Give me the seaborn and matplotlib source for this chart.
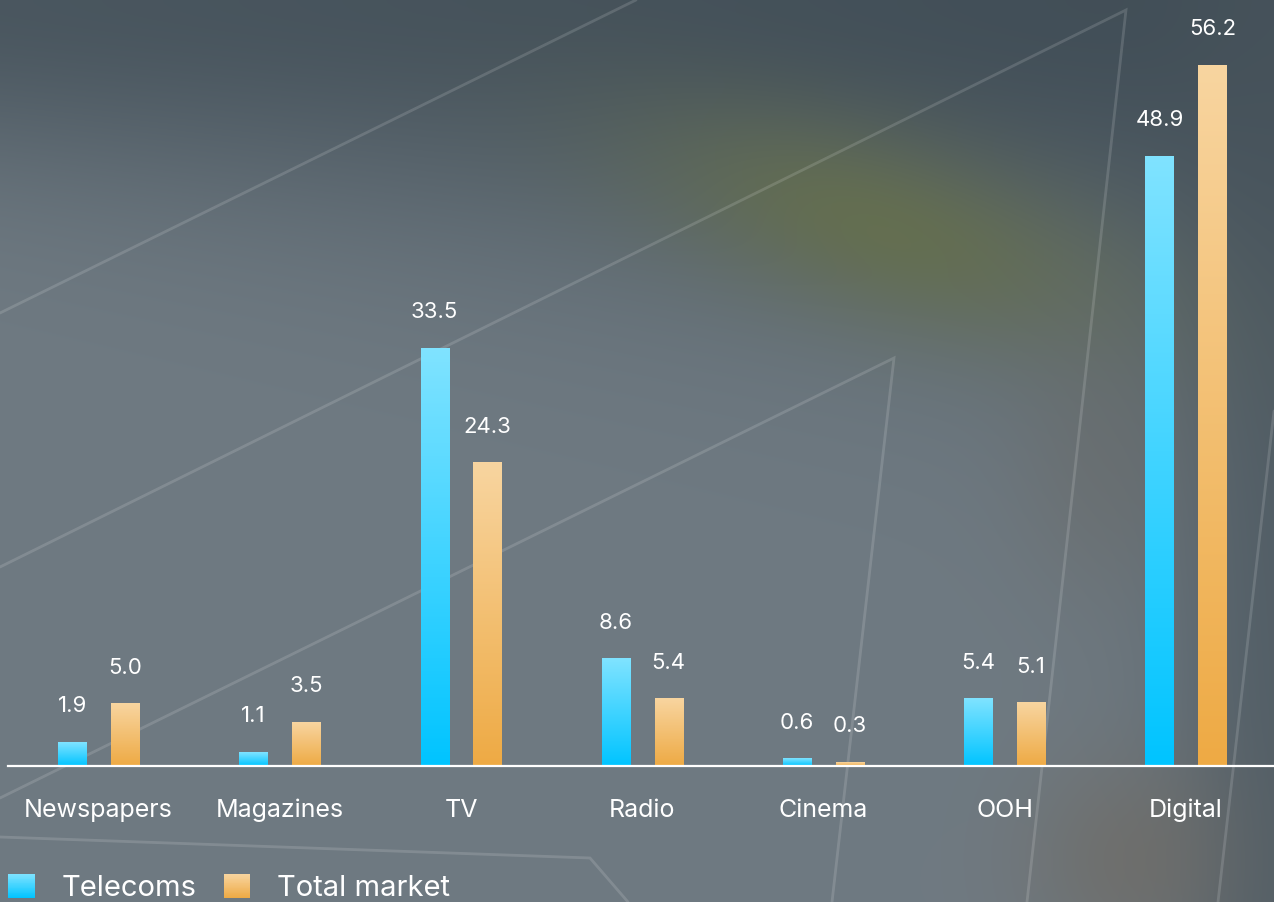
import numpy as np
import pandas as pd
import matplotlib
matplotlib.use("Agg")
import matplotlib.pyplot as plt
from matplotlib.patches import Rectangle, Patch
from matplotlib.legend_handler import HandlerBase
import seaborn as sns

# ---- data ----
categories = ["Newspapers", "Magazines", "TV", "Radio", "Cinema", "OOH", "Digital"]
telecoms = [1.9, 1.1, 33.5, 8.6, 0.6, 5.4, 48.9]
total_market = [5.0, 3.5, 24.3, 5.4, 0.3, 5.1, 56.2]
series_names = ["Telecoms", "Total market"]

df = pd.DataFrame({
    "category": categories * 2,
    "value": telecoms + total_market,
    "series": [series_names[0]] * len(categories) + [series_names[1]] * len(categories),
})

# ---- style ----
sns.set_style("white")
plt.rcParams["font.family"] = ["Inter", "DejaVu Sans"]

W, H = 1274, 902
fig = plt.figure(figsize=(W / 100, H / 100), dpi=100)

CYAN_TOP, CYAN_BOT = np.array([128, 227, 255]) / 255, np.array([0, 196, 255]) / 255
ORNG_TOP, ORNG_BOT = np.array([248, 213, 160]) / 255, np.array([238, 170, 68]) / 255

# ---- background: soft gradient with glows ----
yy, xx = np.mgrid[0:H, 0:W].astype(float)
base = np.array([111, 122, 130], float)
img = np.ones((H, W, 3)) * base


def blend(img, color, weight):
    w = np.clip(weight, 0, 1)[..., None]
    return img * (1 - w) + np.array(color, float) * w


# dark band along the top, deeper towards the right
top_w = np.exp(-(yy / (170 + 0.12 * xx)) ** 2) * (0.75 + 0.2 * xx / W)
img = blend(img, [62, 75, 84], top_w)
# darker strip along the right edge
right_w = 1 / (1 + np.exp(-(xx - 1190) / 35)) * 0.75
img = blend(img, [72, 84, 92], right_w)
# olive glow in the upper middle
ang = np.deg2rad(18)
dx, dy = xx - 880, yy - 225
u = dx * np.cos(ang) + dy * np.sin(ang)
v = -dx * np.sin(ang) + dy * np.cos(ang)
glow = np.exp(-((u / 240) ** 2 + (v / 90) ** 2)) * 0.85
img = blend(img, [102, 112, 76], glow)
# warm glow bottom right
g2 = np.exp(-(((xx - 1130) / 110) ** 2 + ((yy - 860) / 110) ** 2)) * 0.6
img = blend(img, [112, 106, 98], g2)
g3 = np.exp(-(((xx - 1100) / 90) ** 2 + ((yy - 470) / 140) ** 2)) * 0.35
img = blend(img, [104, 102, 96], g3)

bg = fig.add_axes([0, 0, 1, 1], zorder=0)
bg.imshow(img.astype(np.uint8), extent=(0, W, H, 0), aspect="auto", interpolation="bilinear")
bg.set_xlim(0, W)
bg.set_ylim(H, 0)
bg.axis("off")

# decorative outline strokes
line_kw = dict(color="white", alpha=0.14, lw=2.0, solid_capstyle="round", solid_joinstyle="miter")
bg.plot([0, 636], [313, 0], **line_kw)
bg.plot([0, 1126, 1027], [567, 10, 902], **line_kw)
bg.plot([0, 894, 832], [798, 358, 902], **line_kw)
bg.plot([1274, 1218], [411, 902], **line_kw)
bg.plot([0, 590, 628], [837, 858, 902], **line_kw)

# ---- bars ----
ax = fig.add_axes([8 / W, 136 / H, 1 - 8 / W + 0.002, 1 - 136 / H], zorder=1)
ax.set_facecolor("none")
sns.barplot(data=df, x="category", y="value", hue="series", order=categories,
            hue_order=series_names, palette=["#00c4ff", "#eeaa44"],
            width=0.584, gap=0.47, legend=False, ax=ax, errorbar=None)

n = len(categories)
bars = [p for p in ax.patches if isinstance(p, Rectangle)][: 2 * n]
grad = np.linspace(0, 1, 256)[:, None, None]
for i, p in enumerate(bars):
    top, bot = (CYAN_TOP, CYAN_BOT) if i < n else (ORNG_TOP, ORNG_BOT)
    x0, w, h = p.get_x(), p.get_width(), p.get_height()
    col = top[None, None, :] * (1 - grad) + bot[None, None, :] * grad
    ax.imshow(col, extent=(x0, x0 + w, 0, h), aspect="auto", origin="upper",
              interpolation="bilinear", zorder=3)
    p.set_visible(False)
    ax.annotate(f"{h:.1f}", (x0 + w / 2, h), xytext=(0, 21.5), textcoords="offset points",
                ha="center", va="baseline", color="white", fontsize=16, zorder=4)

ax.set_xlim(-0.5, n - 0.5)
ax.set_ylim(0, 61.43)
ax.set_xlabel("")
ax.set_ylabel("")
ax.set_yticks([])
ax.tick_params(axis="x", length=0, pad=23.5, labelsize=18, labelcolor="white")
for s in ["left", "right", "top"]:
    ax.spines[s].set_visible(False)
ax.spines["bottom"].set_color("white")
ax.spines["bottom"].set_linewidth(1.6)
ax.spines["bottom"].set_zorder(5)


# ---- legend with gradient swatches ----
class GradientHandler(HandlerBase):
    def __init__(self, top, bottom, steps=30):
        super().__init__()
        self.top, self.bottom, self.steps = top, bottom, steps

    def create_artists(self, legend, orig_handle, xdescent, ydescent, width, height, fontsize, trans):
        arts = []
        for k in range(self.steps):
            f = k / (self.steps - 1)
            c = self.bottom * (1 - f) + self.top * f
            arts.append(Rectangle((-xdescent, -ydescent + height * k / self.steps), width,
                                  height / self.steps * 1.05, facecolor=c, edgecolor="none",
                                  transform=trans))
        return arts


h1, h2 = Patch(label=series_names[0]), Patch(label=series_names[1])
fig.legend(handles=[h1, h2], labels=series_names, loc="lower left",
           bbox_to_anchor=(8 / W, 0 / H), ncol=2, frameon=False, fontsize=21,
           labelcolor="white", handlelength=0.92, handleheight=0.92, handletextpad=0.92,
           columnspacing=0.92, borderpad=0, borderaxespad=0,
           handler_map={h1: GradientHandler(CYAN_TOP, CYAN_BOT),
                        h2: GradientHandler(ORNG_TOP, ORNG_BOT)})

fig.savefig("out.png", dpi=100)
